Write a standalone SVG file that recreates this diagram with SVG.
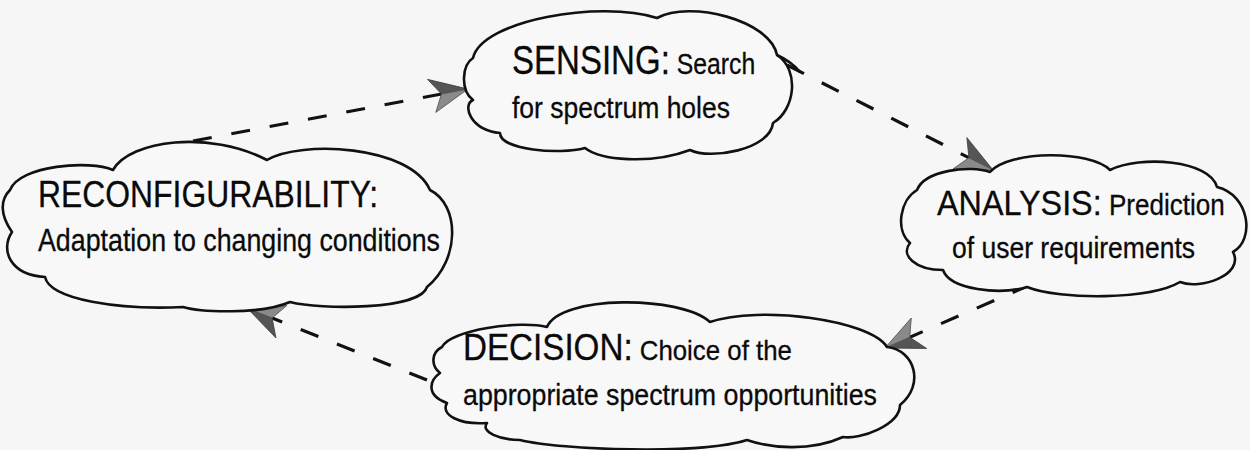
<svg xmlns="http://www.w3.org/2000/svg" width="1250" height="450" viewBox="0 0 1250 450">
<style>
.cloud{fill:#f8f8f8;stroke:#111;stroke-width:2.6;stroke-linejoin:round}
.t{font-family:"Liberation Sans",Arial,sans-serif;font-size:30px;fill:#0a0a0a;stroke:#0a0a0a;stroke-width:0.3}
.conn{fill:none;stroke:#111;stroke-width:3.2;stroke-dasharray:19 20}
</style>
<defs>
<marker id="ah" viewBox="0 0 40 36" refX="40" refY="18" markerWidth="40" markerHeight="36" markerUnits="userSpaceOnUse" orient="auto">
<path d="M40,18 L2,1 L13,18 Z" fill="#555" stroke="#444" stroke-width="0.8"/>
<path d="M40,18 L13,18 L4,35 Z" fill="#8a8a8a" stroke="#555" stroke-width="0.8"/>
</marker>
</defs>
<rect width="1250" height="450" fill="#f6f6f6"/>
<g id="connectors">
<path class="conn" d="M193,141 L468,89" marker-end="url(#ah)"/>
<path class="conn" d="M787,65 L993,170" marker-end="url(#ah)"/>
<path class="conn" d="M1030,285 L885,348" marker-end="url(#ah)"/>
<path class="conn" d="M427,380 L247,308" marker-end="url(#ah)"/>
</g>
<g id="sensing">
<path class="cloud" d="M473,58 C482,20 600,0 657,18 C690,0 770,20 777,55 C800,70 795,110 773,123 C770,150 710,160 690,150 C650,165 600,160 585,148 C560,155 500,150 500,133 C470,130 462,105 473,100 C460,90 462,65 473,58 Z"/>
<path d="M777,55 C788,60 795,66 800,72" fill="none" stroke="#111" stroke-width="2.6"/>
<text class="t" transform="translate(512,74) scale(0.826,1)"><tspan style="font-size:40px">SENSING:</tspan> Search</text>
<text class="t" x="512" y="118" textLength="218" lengthAdjust="spacingAndGlyphs">for spectrum holes</text>
</g>
<g id="reconfigurability">
<path class="cloud" d="M10,190 C20,165 90,160 113,170 C130,140 210,130 267,160 C300,140 410,145 430,190 C460,205 460,260 427,287 C420,310 320,310 290,302 C260,315 200,312 183,307 C120,310 50,300 45,277 C10,275 0,250 12,232 C0,215 0,200 10,190 Z"/>
<text class="t" x="38" y="207" style="font-size:36px" textLength="340" lengthAdjust="spacingAndGlyphs">RECONFIGURABILITY:</text>
<text class="t" x="38" y="251" style="font-size:32px" textLength="402" lengthAdjust="spacingAndGlyphs">Adaptation to changing conditions</text>
</g>
<g id="analysis">
<path class="cloud" d="M917,190 C925,170 970,165 990,172 C1010,150 1090,150 1110,170 C1140,155 1210,160 1217,187 C1250,195 1255,240 1233,252 C1245,275 1200,290 1180,282 C1150,300 1060,300 1027,287 C1000,295 950,290 943,270 C915,270 900,255 910,243 C895,230 900,200 917,190 Z"/>
<text class="t" transform="translate(937,215) scale(0.898,1)" style="font-size:29px"><tspan style="font-size:36px">ANALYSIS:</tspan> Prediction</text>
<text class="t" x="952" y="258" textLength="243" lengthAdjust="spacingAndGlyphs">of user requirements</text>
</g>
<g id="decision">
<path class="cloud" d="M442,347 C450,330 520,320 547,327 C560,295 680,295 710,322 C760,305 870,320 887,347 C915,350 925,385 900,405 C900,425 860,440 843,437 C810,452 770,448 747,440 C700,455 560,450 520,440 C500,440 480,432 487,423 C460,425 440,415 447,403 C425,395 430,380 440,373 C430,365 432,352 442,347 Z"/>
<text class="t" transform="translate(463,360) scale(0.922,1)" style="font-size:28px"><tspan style="font-size:36px">DECISION:</tspan> Choice of the</text>
<text class="t" x="463" y="405" textLength="414" lengthAdjust="spacingAndGlyphs">appropriate spectrum opportunities</text>
</g>
</svg>
